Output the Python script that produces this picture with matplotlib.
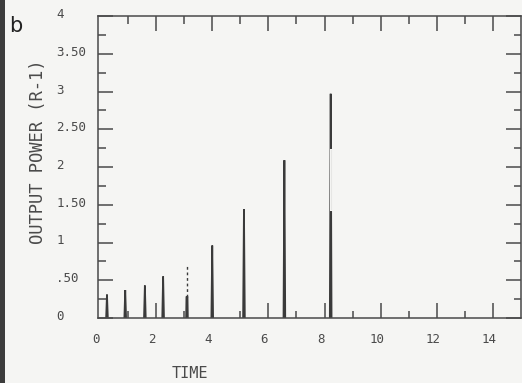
import numpy as np
import matplotlib
matplotlib.use("Agg")
import matplotlib.pyplot as plt
from matplotlib.ticker import MultipleLocator, FixedLocator, FixedFormatter
from matplotlib.transforms import ScaledTranslation
from matplotlib.patches import Rectangle

# ---- data ----
peak_time = [0.25, 0.90, 1.60, 2.25, 3.10, 4.00, 5.13, 6.57, 8.22]
peak_power = [0.31, 0.37, 0.43, 0.55, 0.72, 0.96, 1.44, 2.09, 2.97]
# height up to which each pen stroke is solid (above: dashed in the scan)
solid_top = [0.31, 0.37, 0.43, 0.55, 0.28, 0.96, 1.44, 2.09, 2.97]
# faint (almost missing) stretch of ink on the last pulse
faint_lo, faint_hi = 1.44, 2.22

y_ticks = [0, 0.5, 1, 1.5, 2, 2.5, 3, 3.5, 4]
y_tick_labels = ["0", ".50", "1", "1.50", "2", "2.50", "3", "3.50", "4"]
x_ticks = [0, 2, 4, 6, 8, 10, 12, 14]
x_tick_labels = ["0", "2", "4", "6", "8", "10", "12", "14"]

INK = "#3a3a3a"
BG = "#f5f5f3"
MONO = "DejaVu Sans Mono"

fig = plt.figure(figsize=(5.22, 3.83), dpi=100, facecolor=BG)
ax = fig.add_axes([98 / 522, 65 / 383, 423 / 522, 302 / 383], facecolor=BG)

half_w = 0.03
for t, p, s in zip(peak_time, peak_power, solid_top):
    if s >= p:
        ax.plot([t - half_w, t, t + half_w], [0, p, 0], color=INK, lw=1.3,
                solid_joinstyle="miter")
    else:
        frac = s / p
        ax.plot([t - half_w, t - half_w * (1 - frac), t, t + half_w * (1 - frac), t + half_w],
                [0, s, s, s, 0], color=INK, lw=1.3)
        ax.plot([t, t], [s, p], color=INK, lw=1.0, ls=(0, (2.0, 2.0)))

# faint stretch on the last (tallest) pulse
i_last = int(np.argmax(peak_power))
ax.plot([peak_time[i_last]] * 2, [faint_lo, faint_hi], color=BG, lw=2.2)
ax.plot([peak_time[i_last]] * 2, [faint_lo, faint_hi], color=INK, lw=0.8, alpha=0.08)

ax.set_xlim(-0.07, 15)
ax.set_ylim(0, 4)

ax.xaxis.set_major_locator(FixedLocator(x_ticks))
ax.xaxis.set_major_formatter(FixedFormatter(x_tick_labels))
ax.xaxis.set_minor_locator(FixedLocator(list(range(1, 15, 2))))
ax.yaxis.set_major_locator(FixedLocator(y_ticks))
ax.yaxis.set_major_formatter(FixedFormatter(y_tick_labels))
ax.yaxis.set_minor_locator(MultipleLocator(0.25))

ax.tick_params(which="both", direction="in", top=True, right=True,
               color="#4a4a4a", width=1.1, labelcolor="#4a4a4a")
ax.tick_params(which="major", length=10.8)
ax.tick_params(which="minor", length=5.4)
ax.tick_params(axis="y", which="major", pad=30.2, labelsize=9)
ax.tick_params(axis="x", which="major", pad=10.5, labelsize=9)

# the tick at x = 0 merges with the left frame in the original
t0 = ax.xaxis.get_major_ticks()[0]
t0.tick1line.set_visible(False)
t0.tick2line.set_visible(False)

for lab in ax.get_yticklabels():
    lab.set_horizontalalignment("left")
    lab.set_fontfamily(MONO)
    lab.set_transform(lab.get_transform() + ScaledTranslation(0, 3 / 100, fig.dpi_scale_trans))
for lab in ax.get_xticklabels():
    lab.set_fontfamily(MONO)
    lab.set_transform(lab.get_transform() + ScaledTranslation(-4 / 100, 0, fig.dpi_scale_trans))

for sp in ax.spines.values():
    sp.set_color("#4a4a4a")
    sp.set_linewidth(1.1)

fig.text(190 / 522, 1 - 373 / 383, "TIME", family=MONO, fontsize=11,
         color="#4a4a4a", ha="center", va="center")
fig.text(38 / 522, 1 - 152 / 383, "OUTPUT POWER (R-1)", family=MONO, fontsize=12.3,
         color="#4a4a4a", ha="center", va="center", rotation=90)
fig.text(9 / 522, 1 - 26 / 383, "b", family="DejaVu Sans", fontsize=15,
         color="#222222", ha="left", va="center")

# dark scan edge on the left of the page
fig.patches.append(Rectangle((0, 0), 5 / 522, 1, transform=fig.transFigure,
                             facecolor="#3c3c3c", edgecolor="none", zorder=-1))

fig.savefig("out.png", dpi=100, facecolor=BG)
